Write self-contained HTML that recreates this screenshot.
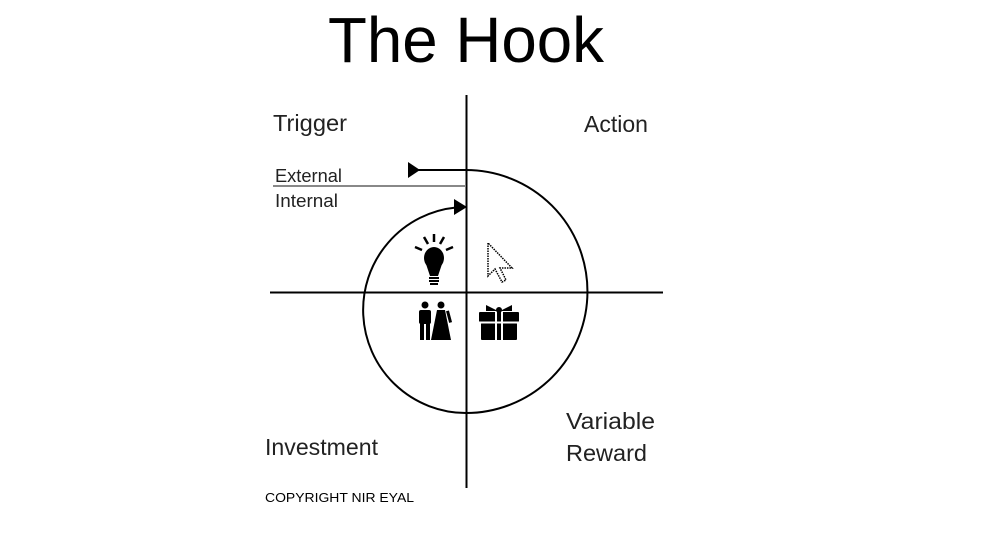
<!DOCTYPE html>
<html><head><meta charset="utf-8"><style>
html,body{margin:0;padding:0;background:#fff;}
svg{display:block;}
text{font-family:"Liberation Sans",sans-serif;}
.l{font-size:23px;fill:#222;}
</style></head><body>
<svg width="999" height="545" viewBox="0 0 999 545" xmlns="http://www.w3.org/2000/svg">
<rect width="999" height="545" fill="#fff"/>
<text x="328" y="62" font-size="64" textLength="276" lengthAdjust="spacingAndGlyphs">The Hook</text>
<!-- axes -->
<line x1="466.5" y1="95" x2="466.5" y2="488" stroke="#000" stroke-width="2"/>
<line x1="270" y1="292.5" x2="663" y2="292.5" stroke="#000" stroke-width="2"/>
<line x1="273" y1="186" x2="466" y2="186" stroke="#888" stroke-width="2"/>
<!-- big right arc -->
<path d="M418 170 L466 170 A121.5 121.5 0 0 1 466 413" fill="none" stroke="#000" stroke-width="2"/>
<polygon points="408,162 408,178 420,170" fill="#000"/>
<!-- left arc -->
<path d="M466 413 A103 103 0 0 1 456 207.5" fill="none" stroke="#000" stroke-width="2"/>
<polygon points="454,199 454,215 467,207" fill="#000"/>
<!-- labels -->
<text class="l" x="273" y="131" textLength="74" lengthAdjust="spacingAndGlyphs">Trigger</text>
<text class="l" x="584" y="132" textLength="64" lengthAdjust="spacingAndGlyphs">Action</text>
<text x="275" y="182" font-size="18" fill="#222" textLength="67" lengthAdjust="spacingAndGlyphs">External</text>
<text x="275" y="207" font-size="18" fill="#222" textLength="63" lengthAdjust="spacingAndGlyphs">Internal</text>
<text class="l" x="265" y="455" textLength="113" lengthAdjust="spacingAndGlyphs">Investment</text>
<text class="l" x="566" y="429" textLength="89" lengthAdjust="spacingAndGlyphs">Variable</text>
<text class="l" x="566" y="461" textLength="81" lengthAdjust="spacingAndGlyphs">Reward</text>
<text x="265" y="502" font-size="13" fill="#000" textLength="149" lengthAdjust="spacingAndGlyphs">COPYRIGHT NIR EYAL</text>
<!-- bulb -->
<g fill="#000">
<ellipse cx="434" cy="258" rx="10" ry="11"/>
<polygon points="426,264 442,264 438,276 430,276"/>
<rect x="429" y="277" width="10" height="2"/><rect x="429" y="280" width="10" height="2"/><rect x="430" y="283" width="8" height="2"/>
</g>
<g stroke="#000" stroke-width="2.5">
<line x1="434" y1="234" x2="434" y2="242"/>
<line x1="424" y1="237" x2="428" y2="244"/>
<line x1="444" y1="237" x2="440" y2="244"/>
<line x1="415" y1="247" x2="422" y2="250"/>
<line x1="453" y1="247" x2="446" y2="250"/>
</g>
<!-- cursor -->
<path d="M488 243 L488 276 L495 269 L502 282 L506 280 L500 268 L512 268 Z" fill="#fff" stroke="#000" stroke-width="1.5" stroke-dasharray="1.5 1"/>
<!-- couple -->
<g fill="#000">
<circle cx="425" cy="305" r="3.5"/>
<rect x="419" y="310" width="12" height="14" rx="2"/>
<rect x="420" y="323" width="4" height="17"/><rect x="426" y="323" width="4" height="17"/>
<circle cx="441" cy="305" r="3.5"/>
<polygon points="437,310 445,310 451,340 431,340"/>
<rect x="446" y="311" width="3" height="12" transform="rotate(-15 447 311)"/>
</g>
<!-- gift -->
<g fill="#000">
<rect x="479" y="312" width="40" height="10" rx="1"/>
<rect x="481" y="323" width="36" height="17" rx="1"/>
<polygon points="486,305 498,311 486,311"/><polygon points="512,305 500,311 512,311"/>
<circle cx="499" cy="310" r="3"/>
</g>
<g stroke="#fff" stroke-width="2"><line x1="496" y1="312" x2="496" y2="341"/><line x1="502" y1="312" x2="502" y2="341"/><line x1="478" y1="322.5" x2="520" y2="322.5"/></g>
</svg>
</body></html>
